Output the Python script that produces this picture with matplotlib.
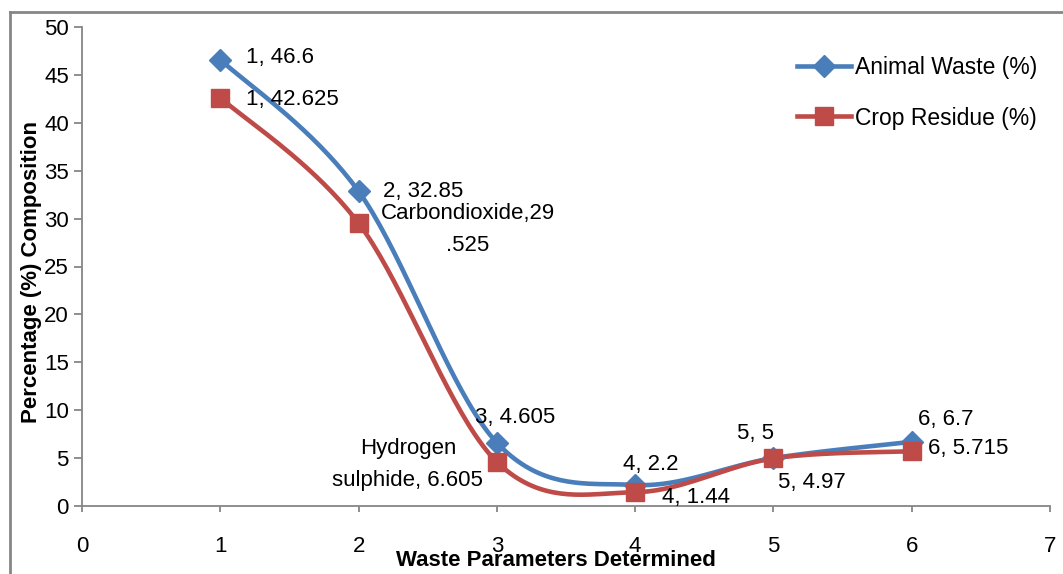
import numpy as np
import matplotlib
matplotlib.use("Agg")
import matplotlib.pyplot as plt
from matplotlib.lines import Line2D

x = [1, 2, 3, 4, 5, 6]
animal = [46.6, 32.85, 6.605, 2.2, 5, 6.7]
crop = [42.625, 29.525, 4.605, 1.44, 4.97, 5.715]
series_names = ["Animal Waste (%)", "Crop Residue (%)"]

labels_animal = ["1, 46.6", "2, 32.85", "Hydrogen\nsulphide, 6.605", "4, 2.2", "5, 5", "6, 6.7"]
labels_crop = ["1, 42.625", "Carbondioxide,29\n.525", "3, 4.605", "4, 1.44", "5, 4.97", "6, 5.715"]

xticks = [0, 1, 2, 3, 4, 5, 6, 7]
yticks = [0, 5, 10, 15, 20, 25, 30, 35, 40, 45, 50]

BLUE = "#4A7EBB"
RED = "#BE4B48"
GRAY = "#868686"
FONT = "Liberation Sans"
FS = 16

plt.rcParams["font.family"] = [FONT, "DejaVu Sans"]

W, H = 1063, 574
fig = plt.figure(figsize=(W / 100, H / 100), dpi=100)
ax = fig.add_axes([82 / W, 1 - 506 / H, (1050 - 82) / W, (506 - 27) / H])


def smooth(xs, ys, n=40):
    P = np.column_stack([xs, ys]).astype(float)
    pts = []
    m = len(P)
    for i in range(m - 1):
        p0 = P[max(i - 1, 0)]
        p1 = P[i]
        p2 = P[i + 1]
        p3 = P[min(i + 2, m - 1)]
        c1 = p1 + (p2 - p0) / 6
        c2 = p2 - (p3 - p1) / 6
        t = np.linspace(0, 1, n)[:, None]
        seg = ((1 - t) ** 3) * p1 + 3 * ((1 - t) ** 2) * t * c1 + 3 * (1 - t) * t ** 2 * c2 + t ** 3 * p2
        pts.append(seg if i == 0 else seg[1:])
    S = np.vstack(pts)
    return S[:, 0], S[:, 1]


LW = 3.3
sx, sy = smooth(x, animal)
ax.plot(sx, sy, color=BLUE, lw=LW, solid_capstyle="round", zorder=3)
ax.plot(x, animal, ls="none", marker="D", ms=11, color=BLUE, zorder=4)
sx, sy = smooth(x, crop)
ax.plot(sx, sy, color=RED, lw=LW, solid_capstyle="round", zorder=3)
ax.plot(x, crop, ls="none", marker="s", ms=13.5, color=RED, zorder=4)

ax.set_xlim(0, 7)
ax.set_ylim(0, 50)
ax.set_xticks(xticks)
ax.set_yticks(yticks)
ax.set_xticklabels([str(v) for v in xticks])
ax.set_yticklabels([str(v) for v in yticks])
for s in ["top", "right"]:
    ax.spines[s].set_visible(False)
for s in ["left", "bottom"]:
    ax.spines[s].set_color(GRAY)
    ax.spines[s].set_linewidth(1.3)
ax.tick_params(axis="x", direction="out", length=4.5, width=1.3, color=GRAY, pad=17, labelsize=FS)
ax.tick_params(axis="y", direction="out", length=5.5, width=1.3, color=GRAY, pad=4, labelsize=FS)
for lbl in ax.get_xticklabels() + ax.get_yticklabels():
    lbl.set_color("black")

# label offsets in pixels (dx right, dy down) relative to each data point
PX = 0.72
ann_animal = [
    ((26, -2), "left"),
    ((24, 0), "left"),
    ((-89, 22), "center"),
    ((-12, -20), "left"),
    ((-36, -25), "left"),
    ((6, -22), "left"),
]
ann_crop = [
    ((26, 2), "left"),
    ((109, 6), "center"),
    ((-22, -44), "left"),
    ((27, 5), "left"),
    ((5, 24), "left"),
    ((16, -3), "left"),
]
for txt, (off, ha), xv, yv in zip(labels_animal, ann_animal, x, animal):
    ax.annotate(txt, (xv, yv), xytext=(off[0] * PX, -off[1] * PX), textcoords="offset points",
                ha=ha, va="center", fontsize=FS, linespacing=1.7, zorder=5)
for txt, (off, ha), xv, yv in zip(labels_crop, ann_crop, x, crop):
    ax.annotate(txt, (xv, yv), xytext=(off[0] * PX, -off[1] * PX), textcoords="offset points",
                ha=ha, va="center", fontsize=FS, linespacing=1.7, zorder=5)

fig.text(556 / W, 1 - 561 / H, "Waste Parameters Determined", ha="center", va="center",
         fontsize=FS, fontweight="bold")
fig.text(32 / W, 1 - 272 / H, "Percentage (%) Composition", ha="center", va="center",
         rotation=90, fontsize=FS, fontweight="bold")

handles = [
    Line2D([], [], color=BLUE, lw=LW, marker="D", ms=11),
    Line2D([], [], color=RED, lw=LW, marker="s", ms=13.5),
]
fig.legend(handles, series_names, loc="upper left", bbox_to_anchor=(797 / W, 1 - 56 / H),
           frameon=False, fontsize=FS + 0.5, handlelength=2.35, handletextpad=0.2,
           labelspacing=1.2, borderaxespad=0, borderpad=0)

# outer chart border (partially visible)
fig.add_artist(Line2D([10 / W, 1062 / W], [1 - 12 / H, 1 - 12 / H], color=GRAY, lw=2,
                      transform=fig.transFigure))
fig.add_artist(Line2D([10 / W, 10 / W], [1 - 12 / H, 0], color=GRAY, lw=2,
                      transform=fig.transFigure))

fig.savefig("out.png", dpi=100)
